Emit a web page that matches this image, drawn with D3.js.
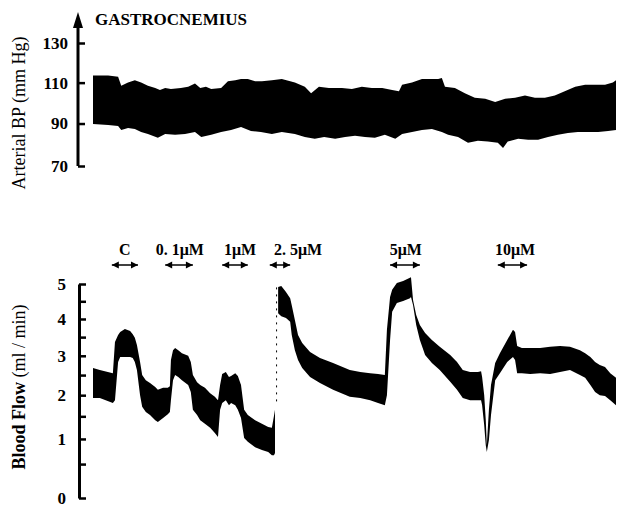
<!DOCTYPE html>
<html>
<head>
<meta charset="utf-8">
<script src="https://cdn.jsdelivr.net/npm/d3@7"></script>
<style>
  body { margin: 0; background: #fff; overflow: hidden; }
  svg { display: block; }
  svg text { font-family: "Liberation Serif", "DejaVu Serif", serif; fill: #000; }
</style>
</head>
<body>
<svg id="viz" width="618" height="507"></svg>
<script>
// time along the recording, arbitrary units (0 = start of trace, 100 = end)
var bpUpperTime = [0, 2.9, 4.8, 5.4, 6.7, 8.0, 9.2, 10.5, 11.9, 12.8, 13.8, 14.9, 16.8, 18.2, 19.5, 20.5, 21.6, 22.6, 24.5, 25.8, 27.2, 28.3, 29.6, 31.0, 32.3, 34.2, 36.1, 38.6, 40.5, 41.7, 43.2, 45.1, 47.6, 49.5, 51.4, 53.3, 55.3, 57.2, 58.5, 59.1, 61.0, 62.9, 64.8, 66.0, 66.7, 67.3, 69.2, 71.1, 73.0, 75.0, 76.9, 78.8, 80.7, 82.6, 84.5, 86.4, 88.3, 90.2, 92.2, 94.1, 96.0, 97.9, 99.4, 100];
var bpUpper = [113.6, 113.6, 112.9, 108.5, 110.1, 111.2, 110.1, 108.5, 107.4, 106.3, 107.4, 106.8, 107.4, 107.9, 109.6, 107.4, 107.9, 106.8, 107.4, 110.7, 111.2, 111.8, 111.8, 110.7, 110.7, 111.2, 111.8, 110.1, 107.9, 104.7, 107.9, 107.4, 107.4, 106.8, 107.9, 107.4, 107.4, 106.3, 105.7, 109.0, 110.1, 111.8, 111.8, 111.8, 112.3, 107.9, 107.4, 104.7, 102.5, 102.0, 100.4, 102.0, 102.5, 103.6, 102.5, 102.5, 103.6, 105.7, 107.9, 109.0, 109.0, 109.0, 110.1, 111.2];
var bpLowerTime = [0, 2.9, 4.8, 5.4, 6.7, 8.0, 9.2, 10.5, 12.4, 13.8, 15.7, 17.6, 19.5, 20.7, 22.6, 24.5, 26.4, 28.3, 30.2, 32.1, 34.2, 36.1, 38.6, 40.5, 42.4, 44.2, 46.3, 48.2, 50.1, 52.0, 53.9, 55.8, 57.8, 59.1, 61.0, 62.9, 64.8, 66.7, 67.9, 69.8, 71.7, 73.6, 75.5, 77.4, 78.4, 79.3, 81.3, 83.2, 85.1, 87.0, 88.9, 90.8, 92.7, 94.6, 96.6, 98.5, 100];
var bpLower = [89.8, 89.3, 88.8, 86.9, 87.9, 87.4, 86.0, 85.0, 83.2, 85.0, 84.6, 85.0, 86.0, 83.6, 84.6, 86.0, 86.9, 88.3, 86.4, 86.0, 85.0, 86.0, 85.0, 83.6, 82.7, 83.6, 82.7, 83.6, 84.1, 83.6, 83.2, 84.6, 82.7, 85.0, 86.0, 86.9, 87.4, 86.0, 84.6, 83.6, 80.9, 81.8, 81.4, 80.9, 78.4, 81.4, 82.7, 82.3, 82.3, 83.6, 84.6, 85.5, 86.0, 86.0, 86.0, 86.4, 86.9];

// blood flow envelope; null marks where the pen was lifted
var flowTime = [0, 1.3, 3.8, 4.2, 4.8, 5.2, 6.1, 7.1, 7.6, 8.0, 8.4, 9.0, 9.4, 10.1, 10.9, 11.9, 12.4, 13.4, 14.3, 14.7, 14.9, 15.3, 15.7, 16.3, 17.0, 18.2, 18.7, 19.1, 19.9, 20.5, 21.4, 22.4, 23.3, 23.9, 24.3, 24.7, 25.4, 26.0, 26.4, 27.2, 27.7, 28.3, 28.9, 29.6, 31.0, 32.3, 33.5, 34.2, 34.6, 34.8,
  35.1,
  35.4, 36.0, 36.9, 37.7, 38.0, 38.6, 39.2, 40.0, 41.5, 43.4, 45.9, 49.1, 51.1, 53.0, 54.5, 55.8, 56.2, 56.8, 57.2, 58.1, 59.3, 60.6, 60.8, 61.2, 61.8, 62.5, 63.5, 64.8, 66.3, 68.3, 69.6, 70.7, 72.1, 73.6, 74.2, 74.4, 74.8, 75.1, 75.3, 75.7, 76.1, 76.9, 77.8, 79.2, 80.3, 80.7, 81.1, 82.0, 83.6, 85.5, 87.4, 89.3, 91.2, 93.1, 94.1, 95.1, 96.0, 96.9, 97.9, 98.9, 100];
var flowUpper = [2.68, 2.63, 2.55, 3.37, 3.56, 3.64, 3.72, 3.67, 3.58, 3.48, 3.29, 2.84, 2.50, 2.37, 2.30, 2.20, 2.13, 2.18, 2.18, 2.22, 2.89, 3.15, 3.21, 3.15, 3.07, 3.00, 2.84, 2.50, 2.32, 2.25, 2.18, 2.05, 1.96, 1.88, 2.25, 2.53, 2.58, 2.45, 2.48, 2.55, 2.48, 2.25, 1.65, 1.53, 1.41, 1.33, 1.26, 1.24, 1.51, 1.65,
  null,
  4.91, 4.94, 4.77, 4.59, 4.39, 3.97, 3.56, 3.34, 3.10, 2.94, 2.81, 2.63, 2.58, 2.55, 2.53, 2.50, 3.70, 4.62, 4.83, 5.03, 5.09, 5.18, 5.20, 4.53, 4.11, 3.83, 3.61, 3.42, 3.24, 3.02, 2.84, 2.63, 2.58, 2.58, 2.60, 2.45, 2.00, 1.41, 0.87, 1.65, 2.25, 2.81, 3.07, 3.42, 3.70, 3.64, 3.26, 3.21, 3.21, 3.21, 3.24, 3.26, 3.24, 3.15, 3.07, 2.97, 2.84, 2.76, 2.71, 2.55, 2.43];
var flowLower = [1.93, 1.93, 1.81, 1.88, 2.84, 2.97, 2.97, 2.97, 2.94, 2.84, 2.63, 2.00, 1.72, 1.60, 1.53, 1.41, 1.37, 1.46, 1.55, 1.60, 1.88, 2.37, 2.50, 2.45, 2.37, 2.25, 2.08, 1.65, 1.53, 1.41, 1.33, 1.24, 1.13, 1.04, 1.65, 1.81, 1.88, 1.76, 1.81, 1.76, 1.65, 1.46, 1.02, 0.94, 0.83, 0.77, 0.73, 0.67, 0.67, 0.71,
  null,
  4.16, 4.08, 4.03, 3.92, 3.56, 3.15, 2.89, 2.68, 2.45, 2.30, 2.13, 1.96, 1.93, 1.88, 1.81, 1.76, 2.00, 3.42, 4.20, 4.45, 4.51, 4.59, 4.62, 4.39, 3.83, 3.42, 3.02, 2.81, 2.63, 2.33, 2.13, 1.93, 1.88, 1.88, 1.88, 1.76, 1.30, 0.87, 0.73, 0.98, 1.53, 2.37, 2.55, 2.84, 2.97, 2.89, 2.55, 2.55, 2.53, 2.55, 2.53, 2.58, 2.63, 2.50, 2.43, 2.25, 2.08, 2.00, 1.98, 1.88, 1.76];

// faint pen trace across the gap
var penGapTime = 35.1;
var penGapFlow = [1.85, 5.0];

var bpTicks = [70, 90, 110, 130];
var flowTicks = [0, 0.5, 1, 1.5, 2, 2.5, 3, 3.5, 4, 4.5, 5];

var drugLabels = ["C", "0. 1\u03bcM", "1\u03bcM", "2. 5\u03bcM", "5\u03bcM", "10\u03bcM"];
var drugStart = [3.6, 13.8, 24.7, 33.8, 56.8, 77.4];
var drugEnd = [8.6, 19.1, 29.6, 37.7, 62.5, 83.0];
var labelTime = [6.1, 16.6, 28.1, 39.2, 59.8, 80.7];

var svg = d3.select("#viz");

var x = d3.scaleLinear().domain([0, 100]).range([93, 616]);
var yBP = d3.scalePow().exponent(0.83).domain([70, 130]).range([166, 43]);
var yFlow = d3.scalePow().exponent(0.8).domain([0, 5]).range([498, 284]);

// ---- axes ----
var bpAxisX = 78;
var arrowTip = yBP(130) - 31;
var bpAxis = svg.append("g")
  .attr("transform", "translate(" + bpAxisX + ",0)")
  .call(d3.axisLeft(yBP).tickValues(bpTicks).tickSizeInner(-7).tickSizeOuter(0).tickPadding(10));
bpAxis.select(".domain")
  .attr("d", "M0," + yBP(70) + "V" + (arrowTip + 10))
  .attr("stroke", "#000")
  .attr("stroke-width", 3);
bpAxis.selectAll(".tick line").attr("stroke", "#000").attr("stroke-width", 2.5);
bpAxis.selectAll(".tick text")
  .attr("font-size", 17)
  .attr("font-weight", "bold");
bpAxis.append("path")
  .attr("d", "M0," + arrowTip + "L-5," + (arrowTip + 16) + "L5," + (arrowTip + 16) + "Z")
  .attr("fill", "#000");

var flowAxis = svg.append("g")
  .attr("transform", "translate(79,0)")
  .call(d3.axisLeft(yFlow)
    .tickValues(flowTicks)
    .tickFormat(function (d) { return d % 1 === 0 ? d : ""; })
    .tickSizeInner(-7).tickSizeOuter(0).tickPadding(13));
flowAxis.select(".domain").attr("stroke", "#000").attr("stroke-width", 3);
flowAxis.selectAll(".tick line").attr("stroke", "#000").attr("stroke-width", 2.5);
flowAxis.selectAll(".tick text")
  .attr("font-size", 17)
  .attr("font-weight", "bold");

// ---- top panel: arterial BP band ----
var bpPts = bpUpperTime
  .map(function (t, i) { return [x(t), yBP(bpUpper[i])]; })
  .concat(bpLowerTime.map(function (t, i) { return [x(t), yBP(bpLower[i])]; }).reverse());
svg.append("path")
  .attr("d", d3.line()(bpPts) + "Z")
  .attr("fill", "#000");

svg.append("text")
  .attr("x", 95).attr("y", 25)
  .attr("font-size", 17)
  .attr("font-weight", "bold")
  .text("GASTROCNEMIUS");

svg.append("text")
  .attr("transform", "translate(25,113) rotate(-90)")
  .attr("text-anchor", "middle")
  .attr("font-size", 18)
  .text("Arterial  BP  (mm Hg)");

// ---- bottom panel: blood flow envelope ----
var flowArea = d3.area()
  .defined(function (d) { return d.hi != null; })
  .x(function (d) { return x(d.t); })
  .y0(function (d) { return yFlow(d.lo); })
  .y1(function (d) { return yFlow(d.hi); });
var flowData = flowTime.map(function (t, i) {
  return { t: t, hi: flowUpper[i], lo: flowLower[i] };
});
svg.append("path")
  .attr("d", flowArea(flowData))
  .attr("fill", "#000");

svg.append("line")
  .attr("x1", x(penGapTime)).attr("x2", x(penGapTime))
  .attr("y1", yFlow(penGapFlow[0])).attr("y2", yFlow(penGapFlow[1]))
  .attr("stroke", "#000")
  .attr("stroke-width", 1)
  .attr("stroke-dasharray", "2,5");

svg.append("text")
  .attr("transform", "translate(25," + (yFlow(2.5) + 12) + ") rotate(-90)")
  .attr("text-anchor", "middle")
  .attr("font-size", 18)
  .call(function (t) {
    t.append("tspan").attr("font-weight", "bold").text("Blood Flow ");
    t.append("tspan").text("(ml / min)");
  });

// drug infusion markers: line with a small arrow head at each end
var drugs = svg.append("g").selectAll("g")
  .data(drugLabels)
  .enter()
  .append("g");
drugs.append("line")
  .attr("x1", function (d, i) { return x(drugStart[i]); })
  .attr("x2", function (d, i) { return x(drugEnd[i]); })
  .attr("y1", 265).attr("y2", 265)
  .attr("stroke", "#000")
  .attr("stroke-width", 1.5);
drugs.append("path")
  .attr("d", function (d, i) {
    var a = x(drugStart[i]), b = x(drugEnd[i]);
    return "M" + a + ",265l7,-3.5v7Z" + "M" + b + ",265l-7,-3.5v7Z";
  })
  .attr("fill", "#000");
drugs.append("text")
  .attr("x", function (d, i) { return x(labelTime[i]); })
  .attr("y", 255)
  .attr("text-anchor", "middle")
  .attr("font-size", 16)
  .attr("font-weight", "bold")
  .text(function (d) { return d; });
</script>
</body>
</html>
